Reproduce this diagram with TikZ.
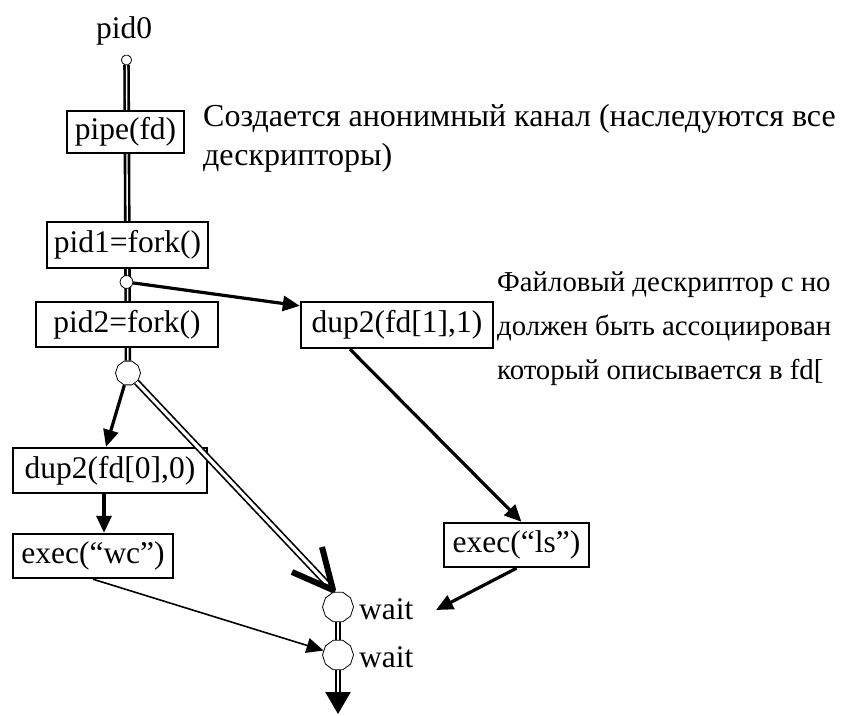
\documentclass[tikz,border=0pt]{standalone}
\usepackage{fontspec}
\setmainfont{Liberation Serif}
\usetikzlibrary{arrows.meta,shapes.geometric,backgrounds,calc}

\begin{document}
\begin{tikzpicture}[x=1pt,y=-1pt,
  every node/.style={font=\fontsize{31.5}{36}\selectfont},
  callbox/.style={draw,line width=2.4pt,fill=white,inner sep=0pt,minimum height=44pt},
  joint/.style={draw,line width=0.8pt,fill=white,regular polygon,regular polygon sides=10,inner sep=0pt},
  flow/.style={line width=2.6pt,double=white,double distance=1.4pt},
  fanout/.style={line width=1.7pt,double=white,double distance=3.2pt},
  branch/.style={line width=3.2pt,-{Triangle[length=17pt,width=15pt]}},
  note/.style={font=\fontsize{32}{40}\selectfont,anchor=base west,inner sep=0pt},
  smallnote/.style={font=\fontsize{28.8}{36}\selectfont,anchor=base west,inner sep=0pt},
]
\useasboundingbox (0,0) rectangle (842,715);

% process steps
\node[inner sep=0pt] (pid0) at (124,31) {pid0};
\node[joint,minimum size=10pt] (c0) at (126.5,60) {};
\node[callbox,minimum width=117pt,minimum height=42pt] (pipe) at (125.5,132) {pipe(fd)};
\node[callbox,minimum width=161pt,minimum height=46pt] (pid1) at (127.5,245) {pid1=fork()};
\node[joint,minimum size=13pt] (c1) at (126.5,282) {};
\node[callbox,minimum width=182pt,minimum height=45pt] (pid2) at (127,324.5) {pid2=fork()};
\node[joint,minimum size=25pt] (c2) at (128,373) {};
\node[callbox,minimum width=192pt,minimum height=46pt] (dupA) at (397,325) {dup2(fd[1],1)};
\node[callbox,minimum width=194pt,minimum height=45pt] (dupB) at (110,470.5) {dup2(fd[0],0)};
\node[callbox,minimum width=160pt] (execwc) at (93,556) {exec(“wc”)};
\node[callbox,minimum width=145pt] (execls) at (516.5,545) {exec(“ls”)};
\node[joint,minimum size=31pt] (c3) at (338,607) {};
\node[joint,minimum size=31pt] (c4) at (338,655) {};
\node[anchor=base west,inner sep=0pt] (w1) at (359,619) {wait};
\node[anchor=base west,inner sep=0pt] (w2) at (359,667) {wait};

% comments
\node[note] (t1a) at (203,126) {Создается анонимный канал (наследуются все};
\node[note] (t1b) at (203,165) {дескрипторы)};
\node[smallnote] (t2a) at (497,291) {Файловый дескриптор с но};
\node[smallnote] (t2b) at (497,335) {должен быть ассоциирован};
\node[smallnote] (t2c) at (497,379) {который описывается в fd[};

\coordinate (vtip) at (333,590);
\coordinate (lsend) at (436,610);
\coordinate (bottom) at (338,714);

% main process line behind the boxes
\begin{scope}[on background layer]
  \draw[flow] (c0) -- (c2);
  \draw[flow] (c3) -- (c4);
  \draw[flow] (c4) -- ($(bottom)+(0,-20)$);
\end{scope}
\draw[line width=2.4pt,-{Triangle[length=22pt,width=25pt]}] ($(bottom)+(0,-21)$) -- (bottom);

% first child
\draw[branch] (c1) -- ($(dupA.north west)+(0,5)$);
\draw[branch] ([xshift=-47pt]dupA.south) -- ([xshift=5pt]execls.north);
\draw[branch] (execls.south) -- (lsend);

% second child
\draw[branch] (c2) -- ([xshift=-4pt]dupB.north);
\draw[branch] ([xshift=-6pt]dupB.south) -- ([xshift=-6pt]dupB.south |- execwc.north);
\draw[line width=1.6pt,-{Triangle[length=17pt,width=15pt]}] (execwc.south) -- (c4);

% parent continues to wait
\draw[fanout] (c2) -- (vtip);
\draw[line width=6pt,line join=round] (vtip) ++(-41,-18) -- (vtip) -- ++(-11,-43);
\end{tikzpicture}
\end{document}
